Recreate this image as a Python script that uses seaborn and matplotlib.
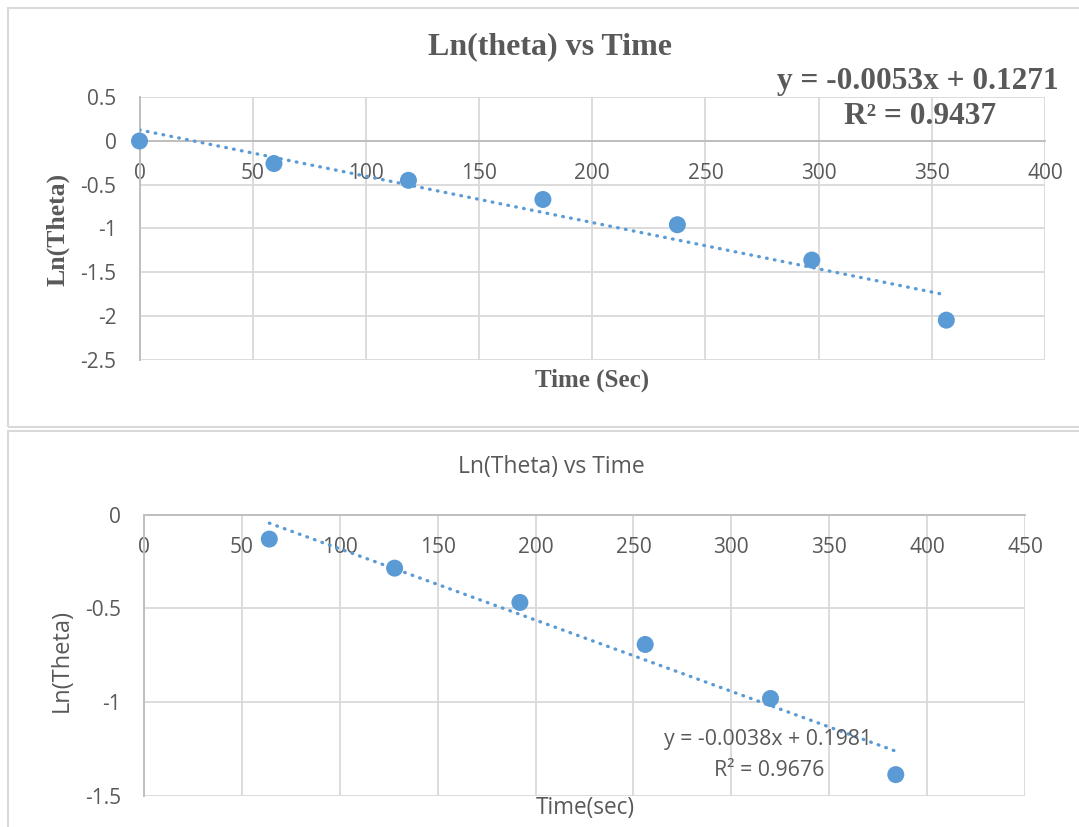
import numpy as np
import pandas as pd
import matplotlib
matplotlib.use("Agg")
import matplotlib.pyplot as plt
from matplotlib.patches import Rectangle
import seaborn as sns

# ---------------- data ----------------
top_time = [0, 59.4, 118.8, 178.2, 237.6, 297.0, 356.4]
top_ln_theta = [0.0, -0.258, -0.45, -0.669, -0.958, -1.362, -2.05]
top_slope = -0.0053
top_intercept = 0.1271
top_r2 = 0.9437
top_xticks = [0, 50, 100, 150, 200, 250, 300, 350, 400]
top_yticks = [0.5, 0, -0.5, -1, -1.5, -2, -2.5]
top_ytick_labels = ["0.5", "0", "-0.5", "-1", "-1.5", "-2", "-2.5"]

bot_time = [64, 128, 192, 256, 320, 384]
bot_ln_theta = [-0.13, -0.285, -0.468, -0.692, -0.98, -1.386]
bot_slope = -0.0038
bot_intercept = 0.1981
bot_r2 = 0.9676
bot_xticks = [0, 50, 100, 150, 200, 250, 300, 350, 400, 450]
bot_yticks = [0, -0.5, -1, -1.5]
bot_ytick_labels = ["0", "-0.5", "-1", "-1.5"]

# ---------------- style ----------------
sns.set_style("white")
plt.rcParams["font.family"] = ["Open Sans", "DejaVu Sans"]

W, H = 1079, 827
fig = plt.figure(figsize=(W / 100, H / 100), dpi=100)

BLUE = "#5b9bd5"
GRID = "#d9d9d9"
AXC = "#bfbfbf"
TXT = "#595959"
SERIF = ["Liberation Serif", "DejaVu Serif"]


def px_axes(x0, y0, x1, y1):
    return fig.add_axes([x0 / W, 1 - y1 / H, (x1 - x0) / W, (y1 - y0) / H])


def fx(x):
    return x / W


def fy(y):
    return 1 - y / H


# chart frames
fig.patches.append(Rectangle((fx(7.5), fy(427)), fx(1090) - fx(7.5), fy(7.5) - fy(427),
                             transform=fig.transFigure, fill=False, ec=GRID, lw=1.5))
fig.patches.append(Rectangle((fx(7.5), fy(840)), fx(1090) - fx(7.5), fy(430.5) - fy(840),
                             transform=fig.transFigure, fill=False, ec=GRID, lw=1.5))


def style_axes(ax, xticks, yticks, ylabels, xlim, ylim, tick_size):
    ax.set_xlim(*xlim)
    ax.set_ylim(*ylim)
    ax.set_xticks(xticks)
    ax.set_xticklabels([str(t) for t in xticks])
    ax.set_yticks(yticks)
    ax.set_yticklabels(ylabels)
    ax.grid(True, color=GRID, lw=1.3)
    ax.set_axisbelow(True)
    for s in ["top", "right"]:
        ax.spines[s].set_visible(False)
    ax.spines["bottom"].set_position(("data", 0))
    ax.spines["bottom"].set_color(AXC)
    ax.spines["bottom"].set_linewidth(1.4)
    ax.spines["left"].set_color(AXC)
    ax.spines["left"].set_linewidth(1.4)
    ax.spines["bottom"].set_zorder(1)
    ax.spines["left"].set_zorder(1)
    ax.tick_params(axis="both", length=0, labelsize=tick_size, labelcolor=TXT)
    ax.tick_params(axis="x", pad=16)
    ax.tick_params(axis="y", pad=16.5)


# ---------------- top chart ----------------
ax1 = px_axes(139.5, 97.3, 1045, 359.5)
df1 = pd.DataFrame({"Time": top_time, "LnTheta": top_ln_theta})
tx1 = np.array([min(top_time), max(top_time)])
trend1 = pd.DataFrame({"Time": tx1, "Trend": top_slope * tx1 + top_intercept})
sns.lineplot(data=trend1, x="Time", y="Trend", ax=ax1, color=BLUE, lw=2.4,
             linestyle=(0, (0.2, 2.2)), dash_capstyle="round", zorder=3)
sns.scatterplot(data=df1, x="Time", y="LnTheta", ax=ax1, color=BLUE, s=150,
                edgecolor="none", zorder=4, clip_on=False)
style_axes(ax1, top_xticks, top_yticks, top_ytick_labels, (0, 400), (-2.5, 0.5), 15)
ax1.set_xlabel("")
ax1.set_ylabel("")

fig.text(fx(550), fy(47), "Ln(theta) vs Time", family=SERIF, weight="bold",
         size=23, color=TXT, ha="center", va="center")
fig.text(fx(918), fy(82), f"y = {top_slope:.4f}x + {top_intercept:.4f}", family=SERIF,
         weight="bold", size=22.6, color=TXT, ha="center", va="center")
fig.text(fx(920), fy(117), f"R² = {top_r2:.4f}", family=SERIF,
         weight="bold", size=22.6, color=TXT, ha="center", va="center")
fig.text(fx(592), fy(380), "Time (Sec)", family=SERIF, weight="bold",
         size=18, color=TXT, ha="center", va="center")
fig.text(fx(58), fy(229), "Ln(Theta)", family=SERIF, weight="bold",
         size=18.5, color=TXT, ha="center", va="center", rotation=90)

# ---------------- bottom chart ----------------
ax2 = px_axes(144, 514.7, 1025, 796)
df2 = pd.DataFrame({"Time": bot_time, "LnTheta": bot_ln_theta})
tx2 = np.array([min(bot_time), max(bot_time)])
trend2 = pd.DataFrame({"Time": tx2, "Trend": bot_slope * tx2 + bot_intercept})
sns.lineplot(data=trend2, x="Time", y="Trend", ax=ax2, color=BLUE, lw=2.4,
             linestyle=(0, (0.2, 2.2)), dash_capstyle="round", zorder=3)
sns.scatterplot(data=df2, x="Time", y="LnTheta", ax=ax2, color=BLUE, s=150,
                edgecolor="none", zorder=4, clip_on=False)
style_axes(ax2, bot_xticks, bot_yticks, bot_ytick_labels, (0, 450), (-1.5, 0), 15)
ax2.set_xlabel("")
ax2.set_ylabel("")

fig.text(fx(551), fy(467), "Ln(Theta) vs Time", size=16.5, color=TXT,
         ha="center", va="center")
fig.text(fx(768), fy(740), f"y = {bot_slope:.4f}x + {bot_intercept:.4f}", size=15.3,
         color=TXT, ha="center", va="center")
fig.text(fx(769), fy(770), f"R² = {bot_r2:.4f}", size=15.3, color=TXT,
         ha="center", va="center")
fig.text(fx(585), fy(808), "Time(sec)", size=16.3, color=TXT, ha="center", va="center")
fig.text(fx(62), fy(660), "Ln(Theta)", size=17, color=TXT, ha="center",
         va="center", rotation=90)

fig.savefig("out.png", dpi=100, facecolor="white")
